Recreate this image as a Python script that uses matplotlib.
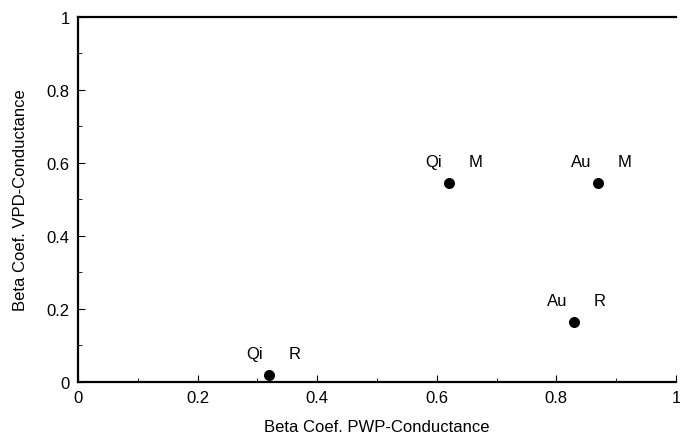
import matplotlib
matplotlib.use("Agg")
import matplotlib.pyplot as plt
from matplotlib.ticker import MultipleLocator, FuncFormatter

plt.rcParams['font.family'] = ['Liberation Sans', 'DejaVu Sans']

species = ["Qi", "Qi", "Au", "Au"]
site = ["R", "M", "M", "R"]
pwp_beta = [0.32, 0.62, 0.87, 0.83]
vpd_beta = [0.02, 0.545, 0.545, 0.165]

fig = plt.figure(figsize=(6.8, 4.39), dpi=100)
ax = fig.add_axes([0.1147, 0.1276, 0.8793, 0.8314])

ax.scatter(pwp_beta, vpd_beta, s=48, color="black", zorder=3)
for sp, st, x, y in zip(species, site, pwp_beta, vpd_beta):
    ax.annotate(sp, (x, y), xytext=(-5, 12), textcoords="offset points",
                ha="right", va="baseline", fontsize=12)
    ax.annotate(st, (x, y), xytext=(14, 12), textcoords="offset points",
                ha="left", va="baseline", fontsize=12)

ax.set_xlim(0, 1)
ax.set_ylim(0, 1)
ax.spines['right'].set_visible(False)
for s in ['left', 'bottom', 'top']:
    ax.spines[s].set_linewidth(1.6)
ax.xaxis.set_major_locator(MultipleLocator(0.2))
ax.xaxis.set_minor_locator(MultipleLocator(0.1))
ax.yaxis.set_major_locator(MultipleLocator(0.2))
ax.yaxis.set_minor_locator(MultipleLocator(0.1))
fmt = FuncFormatter(lambda v, p: "0" if abs(v) < 1e-9 else ("1" if abs(v - 1) < 1e-9 else f"{v:.1f}"))
ax.xaxis.set_major_formatter(fmt)
ax.yaxis.set_major_formatter(fmt)
ax.tick_params(which='both', direction='in', top=False, right=False, labelsize=12, pad=6)
ax.tick_params(which='major', length=5)
ax.tick_params(which='minor', length=3)
ax.set_xlabel("Beta Coef. PWP-Conductance", fontsize=12, labelpad=10)
ax.set_ylabel("Beta Coef. VPD-Conductance", fontsize=12, labelpad=13)

fig.savefig("out.png", dpi=100)
